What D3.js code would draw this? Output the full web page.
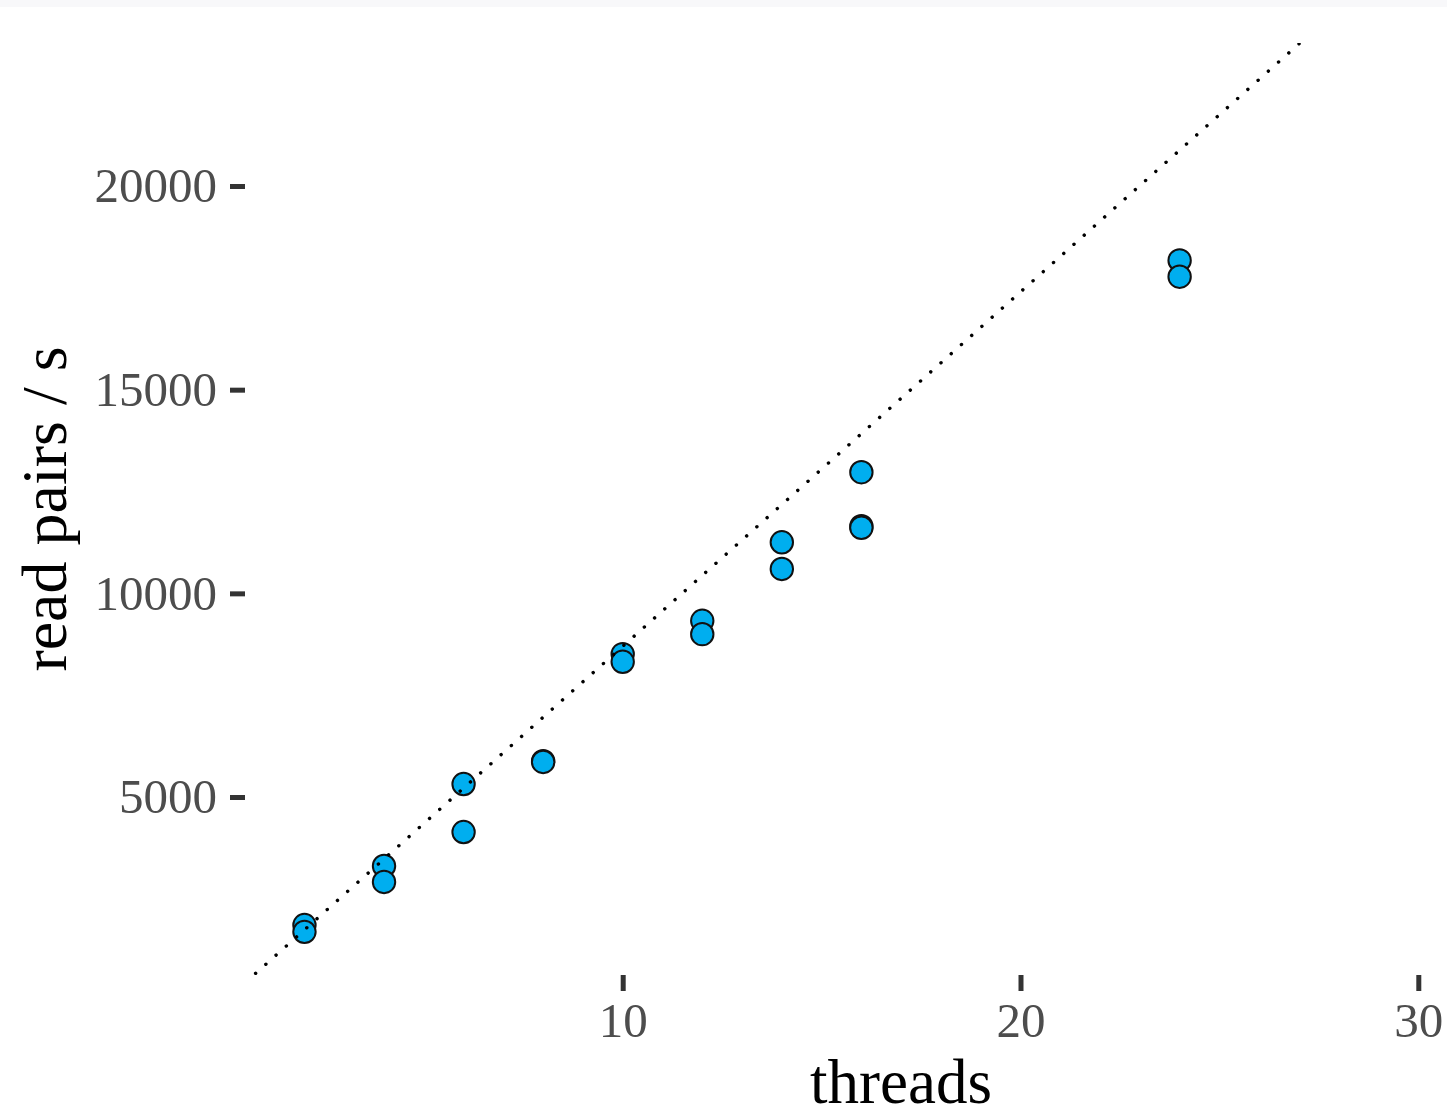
<!DOCTYPE html>
<html>
<head>
<meta charset="utf-8">
<script src="https://cdn.jsdelivr.net/npm/d3@7"></script>
<style>
  html, body { margin: 0; padding: 0; background: #fff; }
  svg { display: block; font-family: "Liberation Serif", "DejaVu Serif", serif; }
</style>
</head>
<body>
<figure id="chart" style="margin:0"></figure>
<script>
// measured runs: threads vs throughput (read pairs / s)
const threads    = [2, 2, 4, 4, 6, 6, 8, 8, 10, 10, 12, 12, 14, 14, 16, 16, 16, 24, 24];
const pairsPerS  = [1858, 1690, 3309, 2914, 5318, 4141, 5880, 5860, 8509, 8320,
                    9327, 8998, 11254, 10599, 12973, 11650, 11610, 18174, 17773];
const xTicks = [10, 20, 30];
const yTicks = [5000, 10000, 15000, 20000];
// ideal linear scaling reference (pairs / s per thread)
const idealSlope = 870;

const W = 1447, H = 1116;
const panel = { left: 245, right: 1447, top: 43, bottom: 975 };

const svg = d3.select("figure#chart")
              .append("svg")
              .attr("width", W)
              .attr("height", H);

svg.append("rect")
   .attr("width", W).attr("height", 7)
   .attr("fill", "#f8f8fa");

const x = d3.scaleLinear()
            .domain([0, 30])
            .range([224.9, 1418.3]);

const y = d3.scaleLinear()
            .domain([0, 20000])
            .range([1000.7, 186]);

svg.append("clipPath")
   .attr("id", "panel")
   .append("rect")
   .attr("x", panel.left)
   .attr("y", panel.top)
   .attr("width", panel.right - panel.left)
   .attr("height", panel.bottom - panel.top);

// axes
const yAxis = svg.append("g")
   .attr("transform", `translate(${panel.left},0)`)
   .call(d3.axisLeft(y).tickValues(yTicks).tickSize(15).tickPadding(13).tickFormat(d3.format("d")));

const xAxis = svg.append("g")
   .attr("transform", `translate(0,${panel.bottom})`)
   .call(d3.axisBottom(x).tickValues(xTicks).tickSize(16).tickPadding(11).tickFormat(d3.format("d")));

[yAxis, xAxis].forEach(g => {
  g.select(".domain").remove();
  g.selectAll(".tick line").attr("stroke", "#333").attr("stroke-width", 5);
  g.selectAll(".tick text").attr("fill", "#4d4d4d").style("font-size", "49px")
   .style("font-family", "Liberation Serif, serif");
});

// points: higher value first so lower one sits on top
const pts = threads.map((t, i) => ({ t, v: pairsPerS[i] }));

svg.append("g")
   .attr("clip-path", "url(#panel)")
   .selectAll("circle")
   .data(pts)
   .enter().append("circle")
   .attr("cx", d => x(d.t))
   .attr("cy", d => y(d.v))
   .attr("r", 11.2)
   .attr("fill", "#00aeef")
   .attr("stroke", "#111")
   .attr("stroke-width", 2);

// ideal scaling line, dotted, drawn above the points
const line = d3.line()
               .x(d => x(d))
               .y(d => y(d * idealSlope));

svg.append("path")
   .datum(x.domain())
   .attr("clip-path", "url(#panel)")
   .attr("fill", "none")
   .attr("stroke", "#000")
   .attr("stroke-width", 3.4)
   .attr("stroke-linecap", "round")
   .attr("stroke-dasharray", "0.1 13.6")
   .attr("d", line);

// axis titles
svg.append("text")
   .attr("x", 901)
   .attr("y", 1103)
   .attr("text-anchor", "middle")
   .attr("fill", "#000")
   .style("font-size", "63px")
   .text("threads");

svg.append("text")
   .attr("transform", "translate(66,509) rotate(-90)")
   .attr("text-anchor", "middle")
   .attr("fill", "#000")
   .style("font-size", "64px")
   .text("read pairs / s");
</script>
</body>
</html>
